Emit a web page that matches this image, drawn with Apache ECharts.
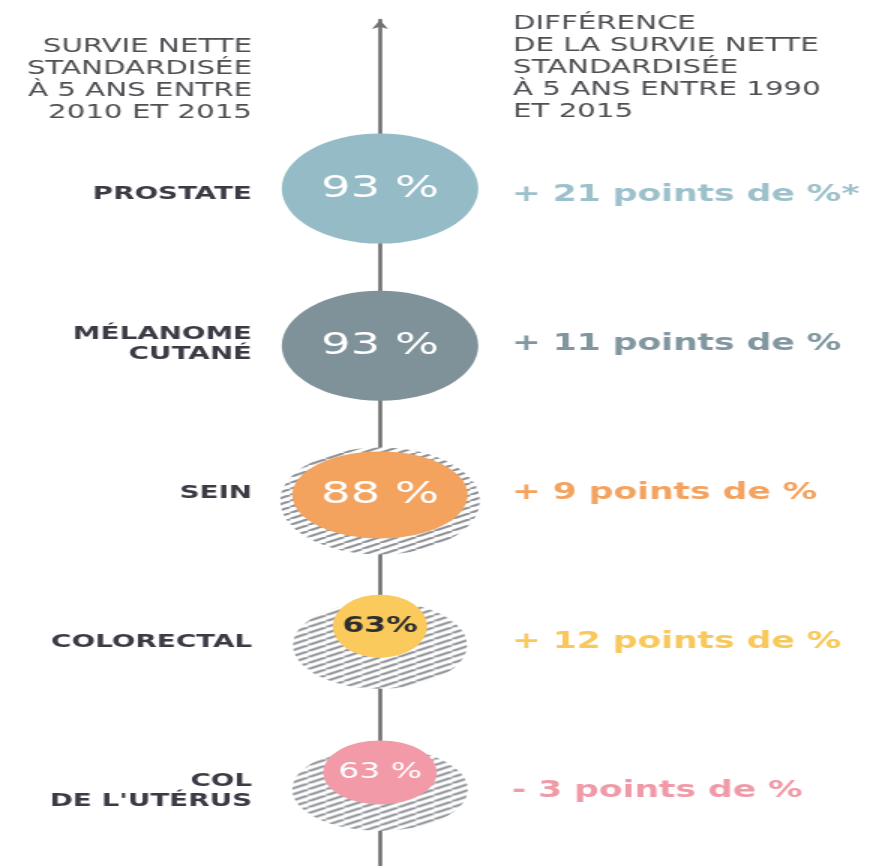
<!DOCTYPE html>
<html><head><meta charset="utf-8">
<script src="https://cdn.jsdelivr.net/npm/echarts@6/dist/echarts.min.js"></script>
<style>
html,body{margin:0;padding:0;background:#fff;overflow:hidden;width:874px;height:866px;}
#main{width:583px;height:866px;transform:scaleX(1.5);transform-origin:0 0;}
</style></head><body><div id="main"></div>
<script>
// ---------- data ----------
const categories = ['PROSTATE', 'MÉLANOME\nCUTANÉ', 'SEIN', 'COLORECTAL', "COL\nDE L'UTÉRUS"];
const survival = [93, 93, 88, 63, 63];          // survie nette standardisée à 5 ans (%)
const diffPoints = [21, 11, 9, 12, -3];        // différence 1990-2015 (points de %)
const diffNotes = ['*', '', '', '', ''];
const hatchedRing = [false, false, true, true, true];
const headerLeft = ['SURVIE NETTE', 'STANDARDISÉE', 'À 5 ANS ENTRE', '2010 ET 2015'];
const headerRight = ['DIFFÉRENCE', 'DE LA SURVIE NETTE', 'STANDARDISÉE', 'À 5 ANS ENTRE 1990', 'ET 2015'];

// ---------- styles ----------
const colors = ['#94bbc6', '#7f9199', '#f4a35f', '#fbca5c', '#f29aa8'];
const textColors = ['#9dc1cb', '#8197a0', '#f4a35f', '#f9c85a', '#f09aa8'];
const circleSize = [[131, 110], [131, 110], [117, 87], [63, 63], [76, 64]];
const circleOffset = [-6, 2, 2, -16, -19];
const ringSize = [[0, 0], [0, 0], [133, 107], [116, 87], [117, 83]];
const ringOffset = [0, 0, 8, 3, -2];
const labelStyles = [
  {color: '#ffffff', fontSize: 31, fontWeight: 'normal', sep: ' %'},
  {color: '#ffffff', fontSize: 31, fontWeight: 'normal', sep: ' %'},
  {color: '#ffffff', fontSize: 31, fontWeight: 'normal', sep: ' %'},
  {color: '#2e2e2e', fontSize: 21, fontWeight: 'bold', sep: '%'},
  {color: '#ffffff', fontSize: 22, fontWeight: 'normal', sep: ' %'}
];

// hatch pattern tile
const PW = 12, PH = 6;
const pat = document.createElement('canvas');
pat.width = PW; pat.height = PH;
(function () {
  const c = pat.getContext('2d');
  c.fillStyle = '#ffffff'; c.fillRect(0, 0, PW, PH);
  c.strokeStyle = '#8e9297'; c.lineWidth = 2.1;
  c.beginPath();
  for (let k = -1; k <= 1; k++) { c.moveTo(k * PW, PH); c.lineTo((k + 1) * PW, 0); }
  c.stroke();
})();

const FONT = '"DejaVu Sans", sans-serif';
const chart = echarts.init(document.getElementById('main'), null, {renderer: 'canvas'});

const gridLeft = 176, gridWidth = 154.67;

chart.setOption({
  backgroundColor: '#ffffff',
  animation: false,
  grid: [
    {left: gridLeft, width: gridWidth, top: 120, height: 748},
    {left: gridLeft, width: gridWidth, top: 20, bottom: 0}
  ],
  xAxis: [
    {gridIndex: 0, type: 'value', min: -1, max: 1, show: false},
    {gridIndex: 1, type: 'value', min: -1, max: 1, show: false}
  ],
  yAxis: [
    {gridIndex: 0, type: 'category', data: categories, inverse: true, position: 'left',
     axisLine: {show: false}, axisTick: {show: false}, splitLine: {show: false},
     axisLabel: {margin: 8, fontFamily: FONT, fontWeight: 'bold', fontSize: 18.5, lineHeight: 20, color: '#3b3b45', align: 'right'}},
    {gridIndex: 0, type: 'category', data: categories, inverse: true, position: 'right',
     axisLine: {show: false}, axisTick: {show: false}, splitLine: {show: false},
     axisLabel: {margin: 10.6, fontFamily: FONT, fontWeight: 'bold', fontSize: 23, align: 'left',
       color: function (v, i) { return textColors[i]; },
       formatter: function (v, i) {
         const d = diffPoints[i];
         return (d >= 0 ? '+ ' : '- ') + Math.abs(d) + ' points de %' + diffNotes[i];
       }}},
    {gridIndex: 1, type: 'value', min: 0, max: 1,
     axisLine: {show: true, onZero: true, symbol: ['none', 'arrow'], symbolSize: [8, 9],
       lineStyle: {color: '#717171', width: 2.6}},
     axisTick: {show: false}, axisLabel: {show: false}, splitLine: {show: false}}
  ],
  graphic: [
    {type: 'text', x: 168, y: 36, silent: true,
     style: {text: headerLeft.join('\n'), align: 'right', verticalAlign: 'top', fontFamily: FONT,
       fontSize: 19.5, lineHeight: 22, fill: '#4f5054'}},
    {type: 'text', x: 342, y: 13, silent: true,
     style: {text: headerRight.join('\n'), align: 'left', verticalAlign: 'top', fontFamily: FONT,
       fontSize: 19.5, lineHeight: 22, fill: '#4f5054'}}
  ],
  series: [
    {type: 'scatter', xAxisIndex: 0, yAxisIndex: 0, symbol: 'circle', silent: true, z: 2,
     data: categories.map(function (c, i) {
       if (!hatchedRing[i]) return null;
       const s = ringSize[i];
       return {value: [0, i], symbolSize: s, symbolOffset: [0, ringOffset[i]],
         itemStyle: {opacity: 1, color: {image: pat, repeat: 'repeat', scaleX: 2 / s[0], scaleY: 2 / s[1]}}};
     }).filter(Boolean)},
    {type: 'scatter', xAxisIndex: 0, yAxisIndex: 0, symbol: 'circle', silent: true, z: 3,
     data: categories.map(function (c, i) {
       const ls = labelStyles[i];
       return {value: [0, i, survival[i]], symbolSize: circleSize[i], symbolOffset: [0, circleOffset[i]],
         itemStyle: {color: colors[i], opacity: 1},
         label: {show: true, position: 'inside', fontFamily: FONT, color: ls.color, fontSize: ls.fontSize,
           fontWeight: ls.fontWeight, formatter: function (p) { return p.value[2] + ls.sep; }}};
     })}
  ]
});
</script></body></html>
